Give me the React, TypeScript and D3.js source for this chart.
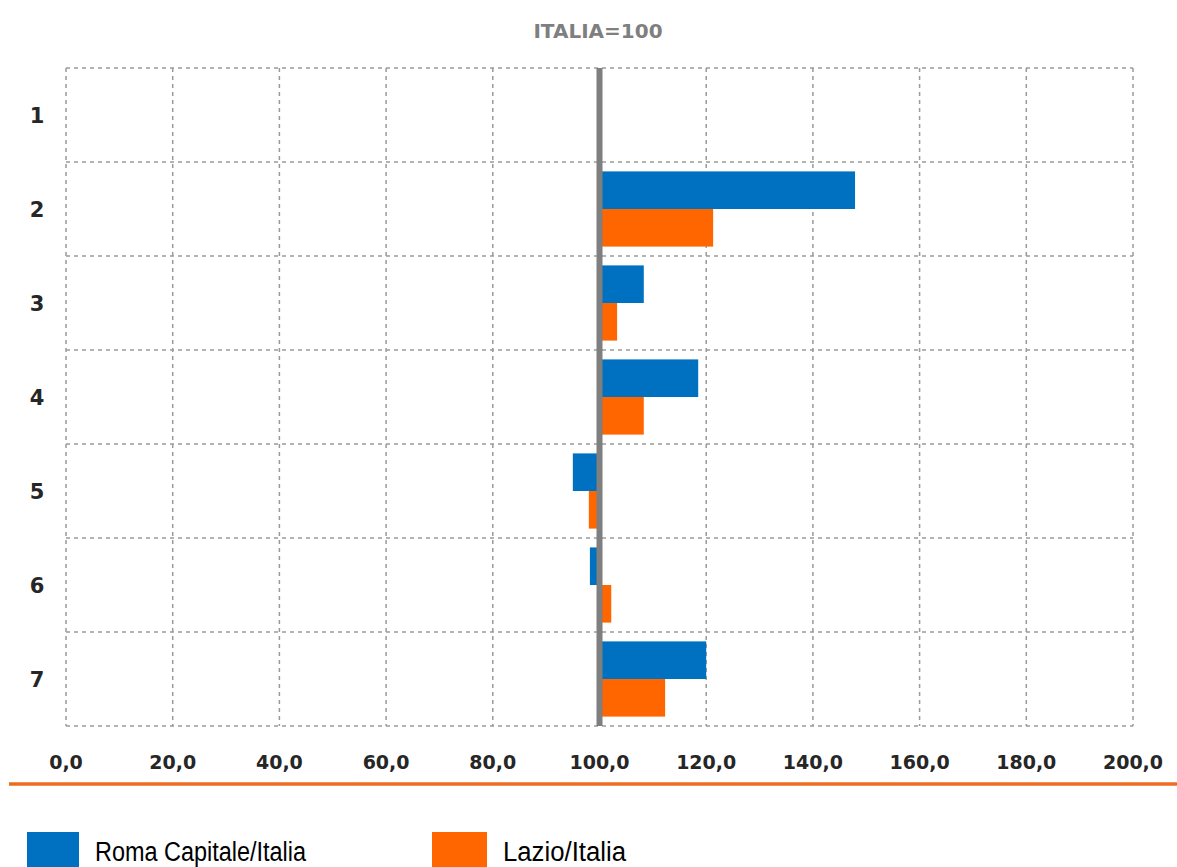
import React from "react";
import * as d3 from "d3";

const categories = ["1", "2", "3", "4", "5", "6", "7"];
const seriesNames = ["Roma Capitale/Italia", "Lazio/Italia"];
const romaValues: (number | null)[] = [null, 147.9, 108.3, 118.5, 95.0, 98.2, 120.0];
const lazioValues: (number | null)[] = [null, 121.3, 103.3, 108.3, 98.0, 102.2, 112.3];
const xTicks = [0, 20, 40, 60, 80, 100, 120, 140, 160, 180, 200];
const baselineValue = 100;
const title = "ITALIA=100";
const seriesColors = ["#0070C0", "#FF6600"];

const W = 1177;
const H = 867;

export default function App() {
  const x = d3.scaleLinear().domain([0, 200]).range([66, 1133]);
  const y = d3
    .scaleBand<string>()
    .domain(categories)
    .range([68, 726])
    .paddingInner(0.2)
    .paddingOuter(0.1);
  const sub = d3
    .scaleBand<string>()
    .domain(seriesNames)
    .range([0, y.bandwidth()])
    .padding(0);
  const seriesValues = [romaValues, lazioValues];
  const step = y.step();
  const top = 68;
  const bottom = 68 + step * categories.length;
  const hLines = d3.range(categories.length + 1).map((i) => top + i * step);
  const gridColor = "#9a9a9a";
  const boldFont = "'DejaVu Sans', sans-serif";
  const narrowFont = "'Liberation Sans Narrow', 'Arial Narrow', 'Liberation Sans', Arial, sans-serif";

  return (
    <svg
      width={W}
      height={H}
      style={{ position: "absolute", left: 0, top: 0, display: "block", background: "#fff" }}
    >
      <text
        x={598}
        y={38}
        textAnchor="middle"
        fontFamily={boldFont}
        fontWeight="bold"
        fontSize={20}
        fill="#7f7f7f"
      >
        {title}
      </text>

      {/* grid */}
      {xTicks
        .filter((t) => t !== baselineValue)
        .map((t) => (
          <line
            key={"v" + t}
            x1={x(t)}
            x2={x(t)}
            y1={top}
            y2={bottom}
            stroke={gridColor}
            strokeWidth={1.5}
            strokeDasharray="4 4"
          />
        ))}
      {hLines.map((yy, i) => (
        <line
          key={"h" + i}
          x1={x(0)}
          x2={x(200)}
          y1={yy}
          y2={yy}
          stroke={gridColor}
          strokeWidth={1.5}
          strokeDasharray="4 4"
        />
      ))}

      {/* bars */}
      {seriesValues.map((vals, si) =>
        vals.map((v, ci) => {
          if (v == null) return null;
          const x0 = x(Math.min(v, baselineValue));
          const x1 = x(Math.max(v, baselineValue));
          return (
            <rect
              key={si + "-" + ci}
              x={x0}
              y={(y(categories[ci]) as number) + (sub(seriesNames[si]) as number)}
              width={x1 - x0}
              height={sub.bandwidth()}
              fill={seriesColors[si]}
            />
          );
        })
      )}

      {/* baseline */}
      <line
        x1={x(baselineValue)}
        x2={x(baselineValue)}
        y1={top}
        y2={bottom}
        stroke="#7f7f7f"
        strokeWidth={6}
      />

      {/* category labels */}
      {categories.map((c) => (
        <text
          key={"c" + c}
          x={37}
          y={(y(c) as number) + y.bandwidth() / 2 + 8}
          textAnchor="middle"
          fontFamily={boldFont}
          fontWeight="bold"
          fontSize={21}
          fill="#262626"
        >
          {c}
        </text>
      ))}

      {/* x tick labels */}
      {xTicks.map((t) => (
        <text
          key={"t" + t}
          x={x(t)}
          y={769}
          textAnchor="middle"
          fontFamily={boldFont}
          fontWeight="bold"
          fontSize={19}
          fill="#262626"
        >
          {d3.format(".1f")(t).replace(".", ",")}
        </text>
      ))}

      {/* separator */}
      <line x1={9} x2={W} y1={784} y2={784} stroke="#EC6C22" strokeWidth={3.5} />

      {/* legend */}
      <rect x={27} y={832} width={52} height={40} fill={seriesColors[0]} />
      <text
        x={95}
        y={861}
        fontFamily={narrowFont}
        fontSize={27}
        fill="#000"
        textLength={211}
        lengthAdjust="spacingAndGlyphs"
      >
        {seriesNames[0]}
      </text>
      <rect x={432} y={832} width={55} height={40} fill={seriesColors[1]} />
      <text
        x={503}
        y={861}
        fontFamily={narrowFont}
        fontSize={27}
        fill="#000"
        textLength={123}
        lengthAdjust="spacingAndGlyphs"
      >
        {seriesNames[1]}
      </text>
    </svg>
  );
}
